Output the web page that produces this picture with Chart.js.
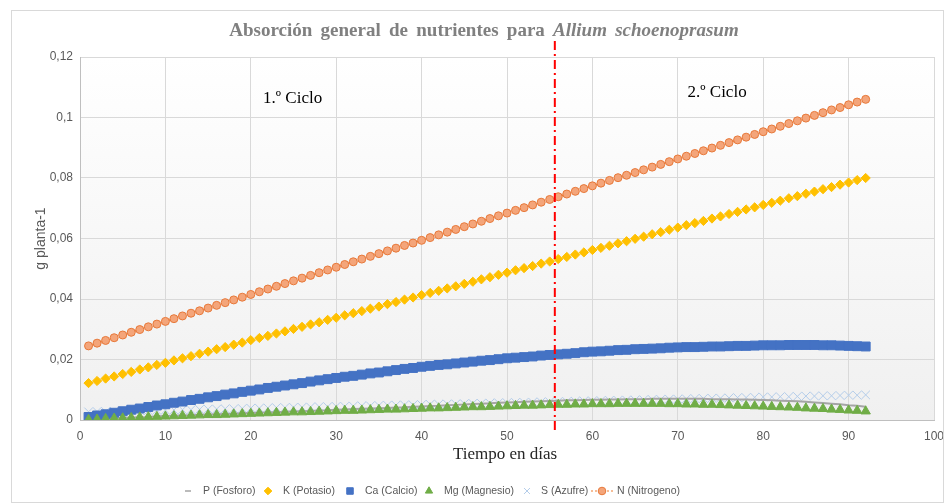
<!DOCTYPE html>
<html>
<head>
<meta charset="utf-8">
<script src="https://cdn.jsdelivr.net/npm/chart.js@4.4.1/dist/chart.umd.min.js"></script>
<style>
  html, body { margin: 0; padding: 0; background: #fff; }
  #wrap { width: 944px; height: 504px; position: relative; }
</style>
</head>
<body>
<div id="wrap"><canvas id="nutChart" width="944" height="504"></canvas></div>
<script>
// Días de muestreo
const days = [1,2,3,4,5,6,7,8,9,10,11,12,13,14,15,16,17,18,19,20,21,22,23,24,25,26,27,28,29,30,
  31,32,33,34,35,36,37,38,39,40,41,42,43,44,45,46,47,48,49,50,51,52,53,54,55,56,57,58,59,60,
  61,62,63,64,65,66,67,68,69,70,71,72,73,74,75,76,77,78,79,80,81,82,83,84,85,86,87,88,89,90,91,92];

// Absorción (g planta-1) por nutriente
const fosforo = [0.0003,0.0004,0.0005,0.0006,0.0007,0.0008,0.0009,0.0010,0.0012,0.0013,
  0.0014,0.0015,0.0016,0.0017,0.0018,0.0019,0.0020,0.0021,0.0022,0.0023,
  0.0024,0.0025,0.0026,0.0027,0.0028,0.0029,0.0030,0.0031,0.0032,0.0034,
  0.0035,0.0036,0.0037,0.0038,0.0039,0.0040,0.0041,0.0042,0.0044,0.0045,
  0.0046,0.0047,0.0049,0.0050,0.0051,0.0053,0.0054,0.0055,0.0057,0.0058,
  0.0059,0.0060,0.0061,0.0062,0.0063,0.0064,0.0065,0.0065,0.0066,0.0067,
  0.0067,0.0068,0.0068,0.0069,0.0069,0.0069,0.0070,0.0070,0.0070,0.0070,
  0.0070,0.0070,0.0070,0.0069,0.0069,0.0069,0.0068,0.0068,0.0067,0.0066,
  0.0065,0.0064,0.0063,0.0062,0.0060,0.0058,0.0056,0.0054,0.0052,0.0049,0.0047,0.0044];

const potasio = [0.0122,0.0129,0.0137,0.0144,0.0152,0.0159,0.0167,0.0174,0.0182,0.0189,
  0.0197,0.0204,0.0211,0.0219,0.0226,0.0234,0.0241,0.0249,0.0256,0.0264,
  0.0271,0.0278,0.0286,0.0293,0.0301,0.0308,0.0316,0.0323,0.0331,0.0338,
  0.0346,0.0353,0.0360,0.0368,0.0375,0.0383,0.0390,0.0398,0.0405,0.0413,
  0.0420,0.0427,0.0435,0.0442,0.0450,0.0457,0.0465,0.0472,0.0480,0.0487,
  0.0495,0.0502,0.0509,0.0517,0.0524,0.0532,0.0539,0.0547,0.0554,0.0562,
  0.0569,0.0576,0.0584,0.0591,0.0599,0.0606,0.0614,0.0621,0.0629,0.0636,
  0.0644,0.0651,0.0658,0.0666,0.0673,0.0681,0.0688,0.0696,0.0703,0.0711,
  0.0718,0.0725,0.0733,0.0740,0.0748,0.0755,0.0763,0.0770,0.0778,0.0785,0.0793,0.0800];

const calcio = [0.0010,0.0015,0.0019,0.0024,0.0029,0.0034,0.0038,0.0043,0.0048,0.0052,
  0.0057,0.0061,0.0066,0.0070,0.0075,0.0079,0.0084,0.0088,0.0093,0.0097,
  0.0101,0.0106,0.0110,0.0114,0.0118,0.0122,0.0127,0.0131,0.0135,0.0139,
  0.0143,0.0146,0.0150,0.0154,0.0157,0.0161,0.0165,0.0169,0.0172,0.0176,
  0.0179,0.0182,0.0184,0.0187,0.0190,0.0193,0.0196,0.0198,0.0201,0.0204,
  0.0206,0.0208,0.0210,0.0213,0.0215,0.0217,0.0219,0.0221,0.0224,0.0226,
  0.0227,0.0229,0.0231,0.0232,0.0234,0.0235,0.0236,0.0237,0.0239,0.0240,
  0.0241,0.0241,0.0242,0.0243,0.0243,0.0244,0.0245,0.0245,0.0246,0.0247,
  0.0247,0.0247,0.0248,0.0248,0.0248,0.0248,0.0247,0.0247,0.0246,0.0245,0.0244,0.0243];

const magnesio = [0.0001,0.0002,0.0004,0.0005,0.0006,0.0007,0.0009,0.0010,0.0011,0.0012,
  0.0013,0.0014,0.0015,0.0016,0.0017,0.0017,0.0018,0.0019,0.0020,0.0021,
  0.0022,0.0023,0.0024,0.0025,0.0026,0.0026,0.0027,0.0028,0.0029,0.0030,
  0.0031,0.0031,0.0032,0.0033,0.0034,0.0035,0.0035,0.0036,0.0037,0.0038,
  0.0039,0.0039,0.0040,0.0041,0.0042,0.0043,0.0043,0.0044,0.0045,0.0046,
  0.0047,0.0048,0.0048,0.0049,0.0050,0.0051,0.0051,0.0052,0.0052,0.0053,
  0.0053,0.0053,0.0054,0.0054,0.0054,0.0054,0.0054,0.0054,0.0053,0.0053,
  0.0052,0.0052,0.0051,0.0051,0.0050,0.0049,0.0048,0.0047,0.0046,0.0045,
  0.0044,0.0043,0.0042,0.0041,0.0039,0.0038,0.0037,0.0035,0.0034,0.0032,0.0031,0.0029];

const azufre = [0.0027,0.0028,0.0028,0.0029,0.0029,0.0030,0.0031,0.0031,0.0032,0.0033,
  0.0033,0.0034,0.0034,0.0035,0.0036,0.0036,0.0037,0.0037,0.0038,0.0039,
  0.0039,0.0040,0.0041,0.0041,0.0042,0.0042,0.0043,0.0044,0.0044,0.0045,
  0.0045,0.0046,0.0047,0.0047,0.0048,0.0049,0.0049,0.0050,0.0050,0.0051,
  0.0052,0.0052,0.0053,0.0053,0.0054,0.0055,0.0055,0.0056,0.0057,0.0057,
  0.0058,0.0058,0.0059,0.0060,0.0060,0.0061,0.0061,0.0062,0.0063,0.0063,
  0.0064,0.0065,0.0065,0.0066,0.0066,0.0067,0.0068,0.0068,0.0069,0.0069,
  0.0070,0.0071,0.0071,0.0072,0.0072,0.0073,0.0074,0.0074,0.0075,0.0076,
  0.0076,0.0077,0.0077,0.0078,0.0079,0.0079,0.0080,0.0080,0.0081,0.0082,0.0082,0.0083];

const nitrogeno = [0.0245,0.0254,0.0263,0.0272,0.0281,0.0290,0.0299,0.0308,0.0317,0.0326,
  0.0335,0.0344,0.0353,0.0361,0.0370,0.0379,0.0388,0.0397,0.0406,0.0415,
  0.0424,0.0433,0.0442,0.0451,0.0460,0.0469,0.0478,0.0487,0.0496,0.0505,
  0.0514,0.0523,0.0532,0.0541,0.0550,0.0559,0.0568,0.0577,0.0585,0.0594,
  0.0603,0.0612,0.0621,0.0630,0.0639,0.0648,0.0657,0.0666,0.0675,0.0684,
  0.0693,0.0702,0.0711,0.0720,0.0729,0.0738,0.0747,0.0756,0.0765,0.0774,
  0.0783,0.0792,0.0801,0.0809,0.0818,0.0827,0.0836,0.0845,0.0854,0.0863,
  0.0872,0.0881,0.0890,0.0899,0.0908,0.0917,0.0926,0.0935,0.0944,0.0953,
  0.0962,0.0971,0.0980,0.0989,0.0998,0.1007,0.1016,0.1025,0.1033,0.1042,0.1051,0.1060];

const seriesNames = ['P (Fosforo)', 'K (Potasio)', 'Ca (Calcio)', 'Mg (Magnesio)', 'S (Azufre)', 'N (Nitrogeno)'];
const cicloSplit = 55.6;   // día en que termina el 1.er ciclo
const cicloLabels = [{ text: '1.º Ciclo', x: 24.9, y: 0.1064 }, { text: '2.º Ciclo', x: 74.6, y: 0.1084 }];

const toPts = vals => days.map((d, i) => ({ x: d, y: vals[i] }));

const datasets = [
  { label: seriesNames[0], data: toPts(fosforo), showLine: true, borderColor: '#A5A5A5', borderWidth: 2,
    pointRadius: 0, pointStyle: 'line', order: 6 },
  { label: seriesNames[1], data: toPts(potasio), showLine: false, pointStyle: 'rectRot', pointRadius: 4.6,
    backgroundColor: '#FFC000', borderColor: '#FFC000', borderWidth: 1, order: 5 },
  { label: seriesNames[2], data: toPts(calcio), showLine: false, pointStyle: 'rect', pointRadius: 6.3,
    backgroundColor: '#4472C4', borderColor: '#4472C4', borderWidth: 1, order: 4 },
  { label: seriesNames[3], data: toPts(magnesio), showLine: false, pointStyle: 'triangle', pointRadius: 5.4,
    backgroundColor: '#70AD47', borderColor: '#70AD47', borderWidth: 1, order: 3 },
  { label: seriesNames[4], data: toPts(azufre), showLine: false, pointStyle: 'crossRot', pointRadius: 6,
    backgroundColor: '#BDD7EE', borderColor: '#B4CDEA', borderWidth: 1, order: 7 },
  { label: seriesNames[5], data: toPts(nitrogeno), showLine: true, borderColor: '#ED7D31', borderWidth: 1.5,
    borderDash: [2, 2], pointStyle: 'circle', pointRadius: 4, backgroundColor: '#F4A57A',
    pointBorderColor: '#E8793A', pointBorderWidth: 1, order: 1 }
];

// Fondo degradado del área de trazado, títulos, leyenda y línea de ciclo
const decorPlugin = {
  id: 'decor',
  beforeDraw(chart) {
    const { ctx, chartArea: a } = chart;
    ctx.save();
    ctx.fillStyle = '#fff';
    ctx.fillRect(0, 0, chart.width, chart.height);
    const g = ctx.createLinearGradient(0, a.top, 0, a.bottom);
    g.addColorStop(0, '#ffffff');
    g.addColorStop(1, '#f0f0f0');
    ctx.fillStyle = g;
    ctx.fillRect(a.left, a.top, a.right - a.left, a.bottom - a.top);
    ctx.restore();
  },
  afterDatasetsDraw(chart) {
    const { ctx, chartArea: a, scales } = chart;
    const x = scales.x.getPixelForValue(cicloSplit);
    ctx.save();
    ctx.strokeStyle = '#FF0000';
    ctx.lineWidth = 2;
    ctx.setLineDash([9, 4, 2, 4]);
    ctx.beginPath();
    ctx.moveTo(x, a.top - 16);
    ctx.lineTo(x, a.bottom + 10);
    ctx.stroke();
    ctx.restore();
  },
  afterDraw(chart) {
    const { ctx, chartArea: a, scales } = chart;
    ctx.save();
    // marco exterior
    ctx.strokeStyle = '#d9d9d9';
    ctx.lineWidth = 1;
    ctx.strokeRect(11.5, 10.5, 932, 492);

    // título con parte en cursiva
    const t1 = 'Absorción general de nutrientes para ';
    const t2 = 'Allium schoenoprasum';
    ctx.fillStyle = '#808080';
    ctx.textBaseline = 'middle';
    ctx.wordSpacing = '3.5px';
    ctx.font = 'bold 19px "Liberation Serif", "Times New Roman", serif';
    const w1 = ctx.measureText(t1).width;
    ctx.font = 'italic bold 19px "Liberation Serif", "Times New Roman", serif';
    const w2 = ctx.measureText(t2).width;
    const tx = 484 - (w1 + w2) / 2;
    ctx.textAlign = 'left';
    ctx.font = 'bold 19px "Liberation Serif", "Times New Roman", serif';
    ctx.fillText(t1, tx, 31);
    ctx.font = 'italic bold 19px "Liberation Serif", "Times New Roman", serif';
    ctx.fillText(t2, tx + w1, 31);
    ctx.wordSpacing = '0px';

    // etiquetas de ciclo
    ctx.fillStyle = '#000';
    ctx.textAlign = 'center';
    ctx.font = '17px "Liberation Serif", "Times New Roman", serif';
    cicloLabels.forEach(c => {
      ctx.fillText(c.text, scales.x.getPixelForValue(c.x), scales.y.getPixelForValue(c.y));
    });

    // título eje X
    ctx.fillStyle = '#262626';
    ctx.font = '17px "Liberation Serif", "Times New Roman", serif';
    ctx.fillText('Tiempo en días', 505, 455);

    // título eje Y
    ctx.save();
    ctx.translate(41, (a.top + a.bottom) / 2);
    ctx.rotate(-Math.PI / 2);
    ctx.fillStyle = '#595959';
    ctx.font = '14px "Liberation Sans", Arial, sans-serif';
    ctx.fillText('g planta-1', 0, 0);
    ctx.restore();

    // leyenda
    const ly = 491;
    const legendPos = [{ m: 188, t: 203 }, { m: 268, t: 283 }, { m: 350, t: 365 },
                       { m: 429, t: 444 }, { m: 527, t: 541 }, { m: 602, t: 617 }];
    const legendR = [0, 3.8, 4.6, 4.2, 4.2, 3.8];
    ctx.font = '10.5px "Liberation Sans", Arial, sans-serif';
    ctx.textAlign = 'left';
    datasets.forEach((ds, i) => {
      const p = legendPos[i];
      if (i === 0) {
        ctx.strokeStyle = ds.borderColor;
        ctx.lineWidth = 1.5;
        ctx.beginPath(); ctx.moveTo(p.m - 3, ly); ctx.lineTo(p.m + 3, ly); ctx.stroke();
      } else {
        if (i === 5) {
          ctx.save();
          ctx.strokeStyle = ds.borderColor;
          ctx.lineWidth = 1.2;
          ctx.setLineDash([2, 2]);
          ctx.beginPath(); ctx.moveTo(p.m - 11, ly); ctx.lineTo(p.m + 11, ly); ctx.stroke();
          ctx.restore();
        }
        ctx.fillStyle = ds.backgroundColor;
        ctx.strokeStyle = ds.pointBorderColor || ds.borderColor;
        ctx.lineWidth = 1;
        Chart.helpers.drawPoint(ctx, {
          pointStyle: ds.pointStyle, radius: legendR[i], borderWidth: 1, rotation: 0
        }, p.m, ly);
      }
      ctx.fillStyle = '#595959';
      ctx.fillText(ds.label, p.t, ly);
    });
    ctx.restore();
  }
};

const ctxNut = document.getElementById('nutChart').getContext('2d');

const nutChart = new Chart(ctxNut, {
  type: 'scatter',
  data: { datasets },
  options: {
    responsive: false,
    animation: false,
    devicePixelRatio: 1,
    layout: { padding: { left: 0, right: 10, top: 57, bottom: 0 } },
    plugins: { legend: { display: false }, title: { display: false }, tooltip: { enabled: false } },
    scales: {
      x: {
        type: 'linear', min: 0, max: 100,
        ticks: { stepSize: 10, color: '#595959', padding: 9, font: { family: '"Liberation Sans", Arial, sans-serif', size: 12 } },
        grid: { color: '#d9d9d9', drawTicks: false },
        border: { color: '#bfbfbf' },
        afterFit: s => { s.height = 84; s.paddingRight = 0; s.paddingLeft = 0; }
      },
      y: {
        min: 0, max: 0.12,
        ticks: {
          stepSize: 0.02, color: '#595959', padding: 7,
          font: { family: '"Liberation Sans", Arial, sans-serif', size: 12 },
          callback: v => String(Math.round(v * 100) / 100).replace('.', ',')
        },
        grid: { color: '#d9d9d9', drawTicks: false },
        border: { color: '#bfbfbf' },
        afterFit: s => { s.width = 80; s.paddingTop = 0; s.paddingBottom = 0; }
      }
    }
  },
  plugins: [decorPlugin]
});
</script>
</body>
</html>
